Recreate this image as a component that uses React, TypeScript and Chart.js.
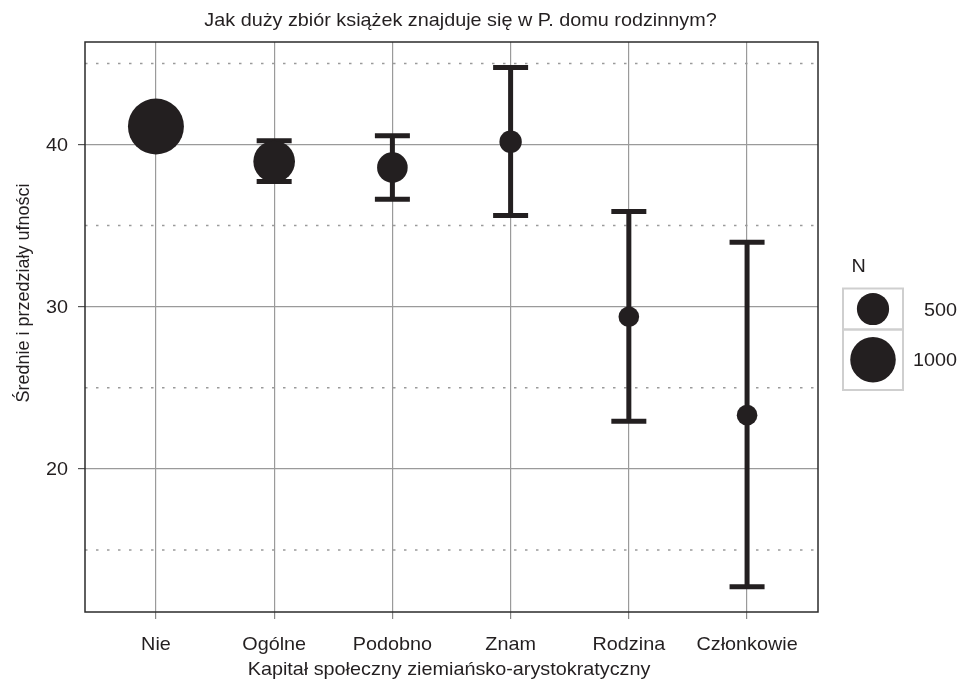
import React, { useEffect, useRef } from 'react';
import { Chart, registerables } from 'chart.js';

Chart.register(...registerables);

// ---- data ----
const categories = ['Nie', 'Ogólne', 'Podobno', 'Znam', 'Rodzina', 'Członkowie'];
const means = [41.11, 38.95, 38.58, 40.17, 29.38, 23.31];
const lower = [40.3, 37.72, 36.63, 35.62, 22.93, 12.72];
const upper = [41.9, 40.23, 40.54, 44.75, 35.86, 33.97];
const counts = [1510, 835, 452, 242, 205, 205];
const yMajorTicks = [20, 30, 40];
const yMinorTicks = [15, 25, 35, 45];
const legendCounts = [500, 1000];

const title = 'Jak duży zbiór książek znajduje się w P. domu rodzinnym?';
const xTitle = 'Kapitał społeczny ziemiańsko-arystokratyczny';
const yTitle = 'Średnie i przedziały ufności';
const legendTitle = 'N';

// ---- style ----
const INK = '#231f20';
const GRID = '#9a9a9a';
const FONT = '"Liberation Sans", Arial, Helvetica, sans-serif';
const FS = 18.5;
const SX = 1.07; // horizontal stretch of the text in the reference
const sizeK = 0.72; // radius = sizeK * sqrt(N)

function drawText(
  ctx: CanvasRenderingContext2D,
  s: string,
  x: number,
  y: number,
  size: number,
  align: CanvasTextAlign
) {
  ctx.save();
  ctx.translate(x, y);
  ctx.scale(SX, 1);
  ctx.font = `${size}px ${FONT}`;
  ctx.fillStyle = INK;
  ctx.textAlign = align;
  ctx.textBaseline = 'alphabetic';
  ctx.fillText(s, 0, 0);
  ctx.restore();
}

const decor = {
  id: 'decor',
  beforeDatasetsDraw(chart: any) {
    const { ctx, chartArea, scales } = chart;
    const xs = scales.x;
    const ys = scales.y;
    // dotted minor grid lines
    ctx.save();
    ctx.strokeStyle = GRID;
    ctx.lineWidth = 1.5;
    ctx.setLineDash([2.5, 8.5]);
    yMinorTicks.forEach((v) => {
      const py = ys.getPixelForValue(v);
      ctx.beginPath();
      ctx.moveTo(chartArea.left, py);
      ctx.lineTo(chartArea.right, py);
      ctx.stroke();
    });
    ctx.restore();
    // error bars
    ctx.save();
    ctx.strokeStyle = INK;
    ctx.lineWidth = 5;
    ctx.lineCap = 'butt';
    const half = 17.5;
    categories.forEach((_, i) => {
      const px = xs.getPixelForValue(i);
      const lo = ys.getPixelForValue(lower[i]);
      const hi = ys.getPixelForValue(upper[i]);
      ctx.beginPath();
      ctx.moveTo(px, lo);
      ctx.lineTo(px, hi);
      ctx.moveTo(px - half, lo);
      ctx.lineTo(px + half, lo);
      ctx.moveTo(px - half, hi);
      ctx.lineTo(px + half, hi);
      ctx.stroke();
    });
    ctx.restore();
  },
  afterDraw(chart: any) {
    const { ctx, chartArea, scales } = chart;
    const xs = scales.x;
    const ys = scales.y;
    // plot frame
    ctx.save();
    ctx.strokeStyle = '#2b2b2b';
    ctx.lineWidth = 1.5;
    ctx.strokeRect(chartArea.left, chartArea.top, chartArea.right - chartArea.left, chartArea.bottom - chartArea.top);
    ctx.restore();

    // title
    drawText(ctx, title, 460.5, 25.5, FS, 'center');
    // x tick labels
    categories.forEach((c, i) => {
      drawText(ctx, c, xs.getPixelForValue(i), chartArea.bottom + 38, FS, 'center');
    });
    // x title
    drawText(ctx, xTitle, 449, 674.5, FS, 'center');
    // y tick labels
    yMajorTicks.forEach((v) => {
      drawText(ctx, String(v), 68, ys.getPixelForValue(v) + 6.5, FS, 'right');
    });
    // y title (rotated)
    ctx.save();
    ctx.translate(29, 293);
    ctx.rotate(-Math.PI / 2);
    ctx.scale(1, SX);
    ctx.font = `18px ${FONT}`;
    ctx.fillStyle = INK;
    ctx.textAlign = 'center';
    ctx.textBaseline = 'alphabetic';
    ctx.fillText(yTitle, 0, 0);
    ctx.restore();

    // size legend
    drawText(ctx, legendTitle, 851.5, 272, FS, 'left');
    const boxX = 843;
    const boxW = 60;
    const boxes = [
      { y: 288.5, h: 41 },
      { y: 329.5, h: 60.5 },
    ];
    ctx.save();
    ctx.strokeStyle = '#cfcfcf';
    ctx.lineWidth = 2;
    boxes.forEach((b) => ctx.strokeRect(boxX, b.y, boxW, b.h));
    ctx.restore();
    legendCounts.forEach((n, i) => {
      const cy = boxes[i].y + boxes[i].h / 2;
      ctx.save();
      ctx.fillStyle = INK;
      ctx.beginPath();
      ctx.arc(boxX + boxW / 2, cy, sizeK * Math.sqrt(n), 0, Math.PI * 2);
      ctx.fill();
      ctx.restore();
      drawText(ctx, String(n), 957, cy + 6.5, FS, 'right');
    });
  },
};

export default function App() {
  const ref = useRef<HTMLCanvasElement>(null);
  useEffect(() => {
    document.body.style.margin = '0';
    const canvas = ref.current!;
    const chart = new Chart(canvas, {
      type: 'bubble',
      data: {
        datasets: [
          {
            data: means.map((m, i) => ({ x: i, y: m, r: sizeK * Math.sqrt(counts[i]) })),
            backgroundColor: INK,
            borderWidth: 0,
            hoverRadius: 0,
          } as any,
        ],
      },
      options: {
        responsive: false,
        animation: false,
        events: [],
        layout: { padding: { top: 42, right: 142, left: 0, bottom: 0 } },
        plugins: {
          legend: { display: false },
          tooltip: { enabled: false },
          title: { display: false },
        },
        scales: {
          x: {
            type: 'linear',
            min: -0.6,
            max: 5.6,
            afterBuildTicks: (s: any) => {
              s.ticks = categories.map((_, i) => ({ value: i }));
            },
            afterFit: (s: any) => {
              s.height = 69;
            },
            ticks: { display: false },
            grid: { color: GRID, lineWidth: 1.2, tickLength: 7, tickColor: '#888', tickWidth: 1.2 },
            border: { display: false },
          },
          y: {
            type: 'linear',
            min: 11.17,
            max: 46.32,
            afterBuildTicks: (s: any) => {
              s.ticks = yMajorTicks.map((v) => ({ value: v }));
            },
            afterFit: (s: any) => {
              s.width = 85;
            },
            ticks: { display: false },
            grid: { color: GRID, lineWidth: 1.2, tickLength: 7, tickColor: '#555', tickWidth: 1.2 },
            border: { display: false },
          },
        },
      } as any,
      plugins: [decor],
    });
    return () => chart.destroy();
  }, []);
  return (
    <div style={{ position: 'absolute', left: 0, top: 0, width: 960, height: 681, background: '#fff' }}>
      <canvas ref={ref} width={960} height={681} style={{ display: 'block' }} />
    </div>
  );
}
